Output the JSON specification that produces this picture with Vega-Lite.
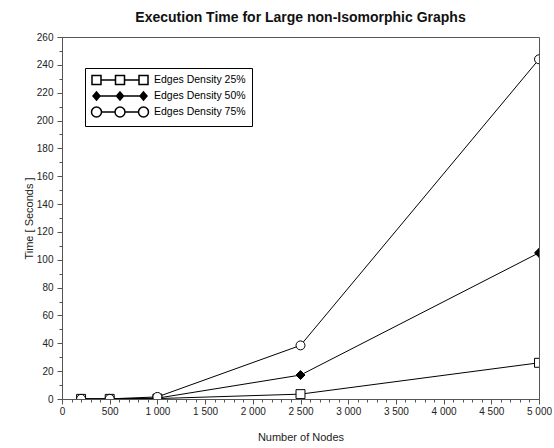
{
  "$schema": "https://vega.github.io/schema/vega-lite/v6.json",
  "width": 477,
  "height": 362,
  "autosize": "none",
  "padding": {"left": 62, "top": 37, "right": 15, "bottom": 49},
  "background": "white",
  "config": {
    "font": "Liberation Sans",
    "view": {"stroke": "#555555", "strokeWidth": 1},
    "axis": {"labelFont": "Liberation Sans", "titleFont": "Liberation Sans", "labelColor": "#222222", "titleColor": "#222222", "labelFontSize": 10, "titleFontSize": 11, "titleFontWeight": "normal", "grid": false, "domainColor": "#555555", "tickColor": "#555555"}
  },
  "title": {"text": "Execution Time for Large non-Isomorphic Graphs", "fontSize": 14, "fontWeight": "bold", "font": "Liberation Sans", "color": "#111111", "anchor": "middle", "offset": 7},
  "data": {"values": [
    {"series": "Edges Density 25%", "nodes": 200, "time": 0.1},
    {"series": "Edges Density 25%", "nodes": 500, "time": 0.1},
    {"series": "Edges Density 25%", "nodes": 1000, "time": 0.3},
    {"series": "Edges Density 25%", "nodes": 2500, "time": 3.5},
    {"series": "Edges Density 25%", "nodes": 5000, "time": 26},
    {"series": "Edges Density 50%", "nodes": 200, "time": 0.05},
    {"series": "Edges Density 50%", "nodes": 500, "time": 0.05},
    {"series": "Edges Density 50%", "nodes": 1000, "time": 0.6},
    {"series": "Edges Density 50%", "nodes": 2500, "time": 17.2},
    {"series": "Edges Density 50%", "nodes": 5000, "time": 105},
    {"series": "Edges Density 75%", "nodes": 200, "time": 0.1},
    {"series": "Edges Density 75%", "nodes": 500, "time": 0.1},
    {"series": "Edges Density 75%", "nodes": 1000, "time": 1.5},
    {"series": "Edges Density 75%", "nodes": 2500, "time": 38.5},
    {"series": "Edges Density 75%", "nodes": 5000, "time": 244}
  ]},
  "layer": [
    {
      "mark": {"type": "line", "color": "#000000", "strokeWidth": 1, "clip": true},
      "encoding": {
        "x": {"field": "nodes", "type": "quantitative", "scale": {"domain": [0, 5000], "nice": false},
          "axis": {"title": "Number of Nodes", "values": [0, 500, 1000, 1500, 2000, 2500, 3000, 3500, 4000, 4500, 5000], "labelExpr": "replace(format(datum.value, ','), ',', ' ')", "tickSize": 5, "labelPadding": 2, "titlePadding": 15, "labelFlush": false, "labelOverlap": false}},
        "y": {"field": "time", "type": "quantitative", "scale": {"domain": [0, 260], "nice": false},
          "axis": {"title": "Time [ Seconds ]", "values": [0, 20, 40, 60, 80, 100, 120, 140, 160, 180, 200, 220, 240, 260], "tickSize": 5, "labelPadding": 4, "titlePadding": 2, "labelOverlap": false}},
        "detail": {"field": "series"}
      }
    },
    {
      "mark": {"type": "point", "stroke": "#000000", "strokeWidth": 1, "opacity": 1, "clip": true, "filled": false},
      "encoding": {
        "x": {"field": "nodes", "type": "quantitative",
          "axis": {"orient": "bottom", "title": null, "labels": false, "domain": false, "tickSize": 3, "values": [100,200,300,400,600,700,800,900,1100,1200,1300,1400,1600,1700,1800,1900,2100,2200,2300,2400,2600,2700,2800,2900,3100,3200,3300,3400,3600,3700,3800,3900,4100,4200,4300,4400,4600,4700,4800,4900]}},
        "y": {"field": "time", "type": "quantitative",
          "axis": {"orient": "left", "title": null, "labels": false, "domain": false, "tickSize": 3, "values": [10,30,50,70,90,110,130,150,170,190,210,230,250]}},
        "shape": {"field": "series", "type": "nominal",
          "scale": {"domain": ["Edges Density 50%", "Edges Density 25%", "Edges Density 75%"], "range": ["diamond", "square", "circle"]},
          "legend": null},
        "fill": {"field": "series", "type": "nominal",
          "scale": {"domain": ["Edges Density 50%", "Edges Density 25%", "Edges Density 75%"], "range": ["#000000", "#ffffff", "#ffffff"]},
          "legend": null},
        "size": {"value": 80}
      }
    },
    {
      "mark": {"type": "point", "stroke": "#000000", "strokeWidth": 1, "opacity": 0, "filled": false},
      "encoding": {
        "x": {"field": "nodes", "type": "quantitative", "axis": null},
        "y": {"field": "time", "type": "quantitative", "axis": null},
        "fill": {"field": "series", "type": "nominal",
          "scale": {"domain": ["Edges Density 25%", "Edges Density 50%", "Edges Density 75%"], "range": ["#ffffff", "#000000", "#ffffff"]},
          "legend": null},
        "shape": {"field": "series", "type": "nominal",
          "scale": {"domain": ["Edges Density 25%", "Edges Density 50%", "Edges Density 75%"],
            "range": [
              "M-5.6,-0.9H-3.8V0.9H-5.6Z M-3.8,0H-0.9 M-0.9,-0.9H0.9V0.9H-0.9Z M0.9,0H3.8 M3.8,-0.9H5.6V0.9H3.8Z",
              "M-4.7,0H4.7 M-4.7,-0.8L-4,0L-4.7,0.8L-5.4,0Z M-4.7,-0.6L-4.18,0L-4.7,0.6L-5.22,0Z M-4.7,-0.4L-4.35,0L-4.7,0.4L-5.05,0Z M-4.7,-0.2L-4.53,0L-4.7,0.2L-4.87,0Z M0,-0.8L0.7,0L0,0.8L-0.7,0Z M0,-0.6L0.52,0L0,0.6L-0.52,0Z M0,-0.4L0.35,0L0,0.4L-0.35,0Z M0,-0.2L0.17,0L0,0.2L-0.17,0Z M4.7,-0.8L5.4,0L4.7,0.8L4,0Z M4.7,-0.6L5.22,0L4.7,0.6L4.18,0Z M4.7,-0.4L5.05,0L4.7,0.4L4.35,0Z M4.7,-0.2L4.87,0L4.7,0.2L4.53,0Z M-4.7,-0.8V0.8 M0,-0.8V0.8 M4.7,-0.8V0.8",
              "M-3.7,0A1,1 0 1,1 -5.7,0A1,1 0 1,1 -3.7,0Z M-3.7,0H-1 M1,0A1,1 0 1,1 -1,0A1,1 0 1,1 1,0Z M1,0H3.7 M5.7,0A1,1 0 1,1 3.7,0A1,1 0 1,1 5.7,0Z"
            ]},
          "legend": {
            "title": null, "orient": "none", "legendX": 23, "legendY": 31,
            "strokeColor": "#000000", "fillColor": "#ffffff", "padding": 6,
            "symbolSize": 100, "symbolOffset": 23, "labelOffset": 28,
            "labelFontSize": 10.5, "labelFont": "Liberation Sans", "labelColor": "#000000", "rowPadding": 1,
            "encode": {"symbols": {
              "stroke": {"value": "#000000"},
              "strokeWidth": {"value": 1},
              "opacity": {"value": 1}
            }}
          }}
      }
    }
  ],
  "resolve": {"axis": {"x": "independent", "y": "independent"}, "scale": {"shape": "independent", "fill": "independent"}}
}
